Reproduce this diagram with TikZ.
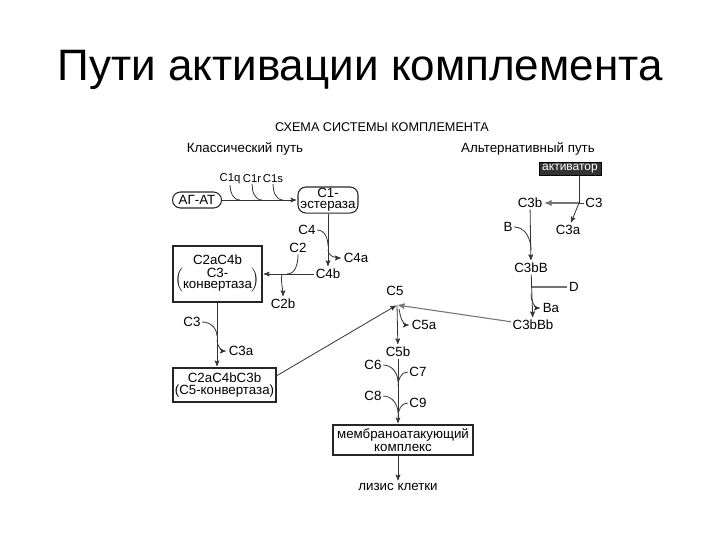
\documentclass[tikz,border=0pt]{standalone}
\usepackage{fontspec}
\setmainfont{Liberation Sans}
\usetikzlibrary{arrows,positioning}

\tikzset{
  lbl/.style={inner sep=1pt, font=\fontsize{10}{11}\selectfont},
  tiny/.style={inner sep=0.5pt, font=\fontsize{8.5}{10}\selectfont},
  box/.style={draw=black!85, thick, inner sep=1pt, align=center,
    font=\fontsize{10}{10.5}\selectfont},
  pill/.style={box, rounded corners=6pt},
  heavy/.style={draw=black!55, thick}
}

\begin{document}
\begin{tikzpicture}[x=0.75pt, y=-0.75pt, semithick, >=stealth', draw=black!80]
  \useasboundingbox (0,0) rectangle (720,540);

  \node[font=\fontsize{33}{38}\selectfont] (title) at (360,70) {Пути активации комплемента};

  \node[lbl, font=\fontsize{9.5}{11}\selectfont] (schema) at (382,127) {СХЕМА СИСТЕМЫ КОМПЛЕМЕНТА};
  \node[lbl] (classic) at (245,149) {Классический путь};
  \node[lbl] (alt)     at (528,149) {Альтернативный путь};

  % classical pathway
  \node[pill, minimum width=36.75pt, minimum height=12pt] (agat) at (197,200) {АГ-АТ};
  \node[pill, minimum width=45pt, minimum height=19.5pt] (c1) at (328,200) {C1-\\[-2pt]эстераза};
  \node[tiny] (c1q) at (230,179) {C1q};
  \node[tiny] (c1r) at (252,179) {C1r};
  \node[tiny] (c1s) at (273,179) {C1s};
  \coordinate (jq) at (240,200);
  \coordinate (jr) at (262,200);
  \coordinate (js) at (283,200);

  \node[lbl] (c4)  at (307,230) {C4};
  \node[lbl] (c4a) at (356,258) {C4a};
  \node[lbl] (c4b) at (328,274) {C4b};
  \coordinate (j4)  at (328,246);
  \coordinate (j4a) at (328,250);

  \node[box, minimum width=66.75pt, minimum height=42pt] (c2a) at (217.5,274)
    {C2aC4b\\[1pt]$\left(\mbox{\begin{tabular}{@{}c@{}}C3-\\[-2pt]конвертаза\end{tabular}}\right)$};
  \node[lbl] (c2)  at (298,248) {C2};
  \node[lbl] (c2b) at (283,304) {C2b};
  \coordinate (j2)  at (287,274);
  \coordinate (j2b) at (282,274);

  \node[box, minimum width=77.25pt, minimum height=25.5pt] (c3conv) at (224.5,385)
    {C2aC4bC3b\\[-1pt](C5-конвертаза)};
  \node[lbl] (c3)  at (192,322) {C3};
  \node[lbl] (c3a) at (241,351) {C3a};
  \coordinate (j3)  at (217,336);
  \coordinate (j3a) at (217,340);

  % terminal pathway
  \node[lbl] (c5)  at (395,291) {C5};
  \coordinate (j5)  at (397,305);
  \coordinate (j5a) at (399,309);
  \node[lbl] (c5a) at (424,325) {C5a};
  \node[lbl] (c5b) at (398,352) {C5b};
  \node[lbl] (c6)  at (373,365) {C6};
  \node[lbl] (c7)  at (418,372) {C7};
  \node[lbl] (c8)  at (373,396) {C8};
  \node[lbl] (c9)  at (418,403) {C9};
  \coordinate (j6) at (398,382);
  \coordinate (j7) at (398,386);
  \coordinate (j8) at (398,413);
  \coordinate (j9) at (398,417);
  \node[box, minimum width=105pt, minimum height=22.5pt] (mac) at (403,440)
    {мембраноатакующий\\[-1pt]комплекс};
  \node[lbl] (lysis) at (398,487) {лизис клетки};

  % alternative pathway
  \node[draw=black, fill=black!80, text=white, inner sep=1pt,
    minimum width=46.5pt, minimum height=9.75pt, font=\fontsize{9}{10}\selectfont]
    (act) at (570,169) {активатор};
  \coordinate (jc3) at (579,203);
  \node[lbl] (c3alt)  at (594,203) {C3};
  \node[lbl] (c3b)    at (530,203) {C3b};
  \node[lbl] (c3aalt) at (568,230) {C3a};
  \node[lbl] (b)      at (508,227) {B};
  \coordinate (jb) at (531,250);
  \node[lbl] (c3bb)   at (531,268) {C3bB};
  \node[lbl] (d)      at (574,287) {D};
  \coordinate (jd)  at (531,287);
  \coordinate (jba) at (531,294);
  \node[lbl] (ba)     at (551,308) {Ba};
  \node[lbl] (c3bbb)  at (533,325) {C3bBb};

  % Connect the nodes
  \draw[->, shorten >= 1pt] (agat) -- (c1);
  \draw (c1q) to[out=-90, in=180] (jq);
  \draw (c1r) to[out=-90, in=180] (jr);
  \draw (c1s) to[out=-90, in=180] (js);
  \draw[->, shorten >= 1pt] (c1.south -| c4b) -- (c4b);
  \draw (c4) to[out=0, in=90] (j4);
  \draw[->, shorten >= 1pt] (j4a) to[out=-90, in=180] (c4a);
  \draw[->, shorten >= 1pt] (c4b) -- (c2a.east |- c4b);
  \draw (c2) to[out=-90, in=0] (j2);
  \draw[->, shorten >= 1pt] (j2b) to[out=-100, in=90] (c2b);
  \draw[->, shorten >= 1pt] (c2a.south -| j3) -- (c3conv.north -| j3);
  \draw (c3) to[out=0, in=90] (j3);
  \draw[->, shorten >= 1pt] (j3a) to[out=-90, in=180] (c3a);
  \draw[->, shorten >= 1pt] (c3conv.10) -- (j5);

  \draw (jc3 |- act.south) -- (jc3);
  \draw (c3alt) -- (jc3);
  \draw[heavy, ->, shorten >= 1pt] (jc3) -- (c3b);
  \draw[->, shorten >= 1pt] (jc3) -- (c3aalt);
  \draw[->, shorten >= 1pt] (c3b) -- (c3bb);
  \draw (b) to[out=0, in=90] (jb);
  \draw[heavy] (d) -- (jd);
  \draw[->, shorten >= 1pt] (jba) to[out=-90, in=180] (ba);
  \draw[->, shorten >= 1pt] (c3bb) -- (c3bbb);
  \draw[heavy, ->, shorten >= 1pt] (c3bbb) -- (j5);

  \draw[->, shorten >= 1pt] (j5) -- (c5b);
  \draw[->, shorten >= 1pt] (j5a) to[out=-80, in=180] (c5a);
  \draw[->, shorten >= 1pt] (c5b) -- (c5b |- mac.north);
  \draw (c6) to[out=0, in=90] (j6);
  \draw (c7) to[out=180, in=90] (j7);
  \draw (c8) to[out=0, in=90] (j8);
  \draw (c9) to[out=180, in=90] (j9);
  \draw[->, shorten >= 1pt] (lysis |- mac.south) -- (lysis);
\end{tikzpicture}
\end{document}
